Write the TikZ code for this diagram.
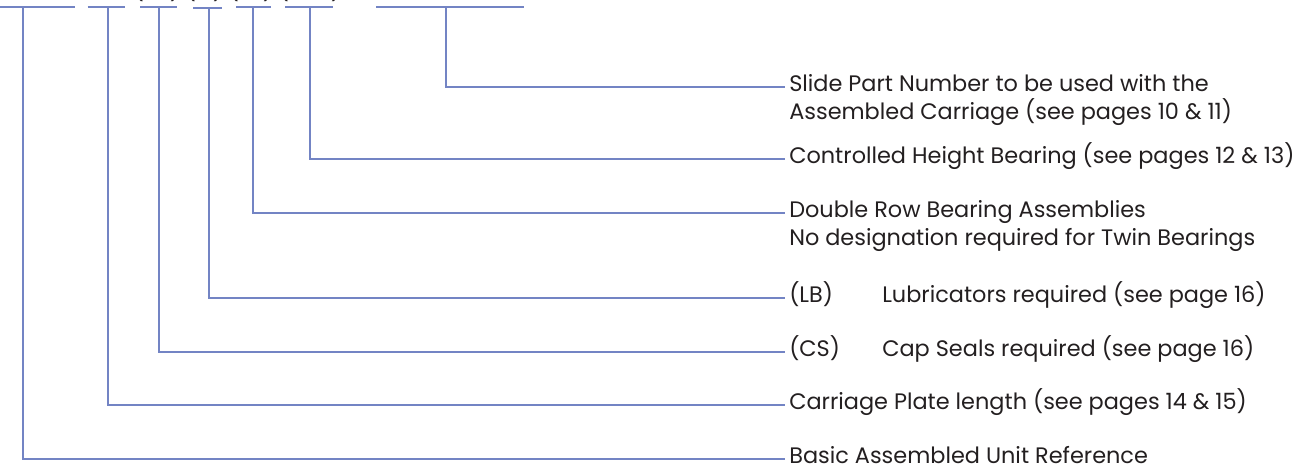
\documentclass[tikz,border=0pt]{standalone}
\usepackage{fontspec}
\setmainfont{Poppins}
\definecolor{linkblue}{RGB}{115,132,196}
\definecolor{ink}{RGB}{35,31,32}
\tikzset{
  lbl/.style={anchor=west, inner xsep=3pt, inner ysep=0pt, text height=0.7em, text depth=0pt,
    text=ink, font=\fontsize{16.8}{20}\selectfont},
  link/.style={linkblue, line width=1.5pt},
  paren/.style={anchor=south, inner sep=0pt, text=ink, font=\fontsize{16.8}{20}\selectfont}
}

\begin{document}
\begin{tikzpicture}[x=0.75pt,y=-0.75pt]
	\useasboundingbox (0,0) rectangle (1312,471);

	% code bars
	\draw[link] (0,6.5) -- (75,6.5);
	\draw[link] (87.5,6.5) -- (125,6.5);
	\draw[link] (140,6.5) -- (177,6.5);
	\draw[link] (193,7.8) -- (222,7.8);
	\draw[link] (236,6.5) -- (271,6.5);
	\draw[link] (285,6.5) -- (333,6.5);
	\draw[link] (376,6.5) -- (524,6.5);

	% brackets
	\node[paren] (pa) at (139,1.5) {(};
	\node[paren] (pb) at (175,1.5) {)};
	\node[paren] (pc) at (191,1.5) {(};
	\node[paren] (pd) at (218,1.5) {)};
	\node[paren] (pe) at (234,1.5) {(};
	\node[paren] (pf) at (268,1.5) {)};
	\node[paren] (pg) at (284,1.5) {(};
	\node[paren] (ph) at (336,1.5) {)};

	% bar feet
	\coordinate (basicbar) at (23,6.5);
	\coordinate (platebar) at (108,6.5);
	\coordinate (csbar) at (159,6.5);
	\coordinate (lbbar) at (209,7.8);
	\coordinate (doublebar) at (253,6.5);
	\coordinate (heightbar) at (310,6.5);
	\coordinate (slidebar) at (446,6.5);

	% labels
	\node[lbl] (slide) at (785,87) {Slide Part Number to be used with the};
	\node[lbl] (slideb) at (785,115) {Assembled Carriage (see pages 10 \& 11)};
	\node[lbl] (height) at (785,159) {Controlled Height Bearing (see pages 12 \& 13)};
	\node[lbl] (double) at (785,213) {Double Row Bearing Assemblies};
	\node[lbl] (doubleb) at (785,241) {No designation required for Twin Bearings};
	\node[lbl] (lb) at (785,298) {(LB)};
	\node[lbl] (lbtext) at (878,298) {Lubricators required (see page 16)};
	\node[lbl] (cs) at (785,352) {(CS)};
	\node[lbl] (cstext) at (878,352) {Cap Seals required (see page 16)};
	\node[lbl] (plate) at (785,405) {Carriage Plate length (see pages 14 \& 15)};
	\node[lbl] (basic) at (785,459) {Basic Assembled Unit Reference};

	% leader lines
	\draw[link] (slidebar) |- (slide);
	\draw[link] (heightbar) |- (height);
	\draw[link] (doublebar) |- (double);
	\draw[link] (lbbar) |- (lb);
	\draw[link] (csbar) |- (cs);
	\draw[link] (platebar) |- (plate);
	\draw[link] (basicbar) |- (basic);
\end{tikzpicture}
\end{document}
